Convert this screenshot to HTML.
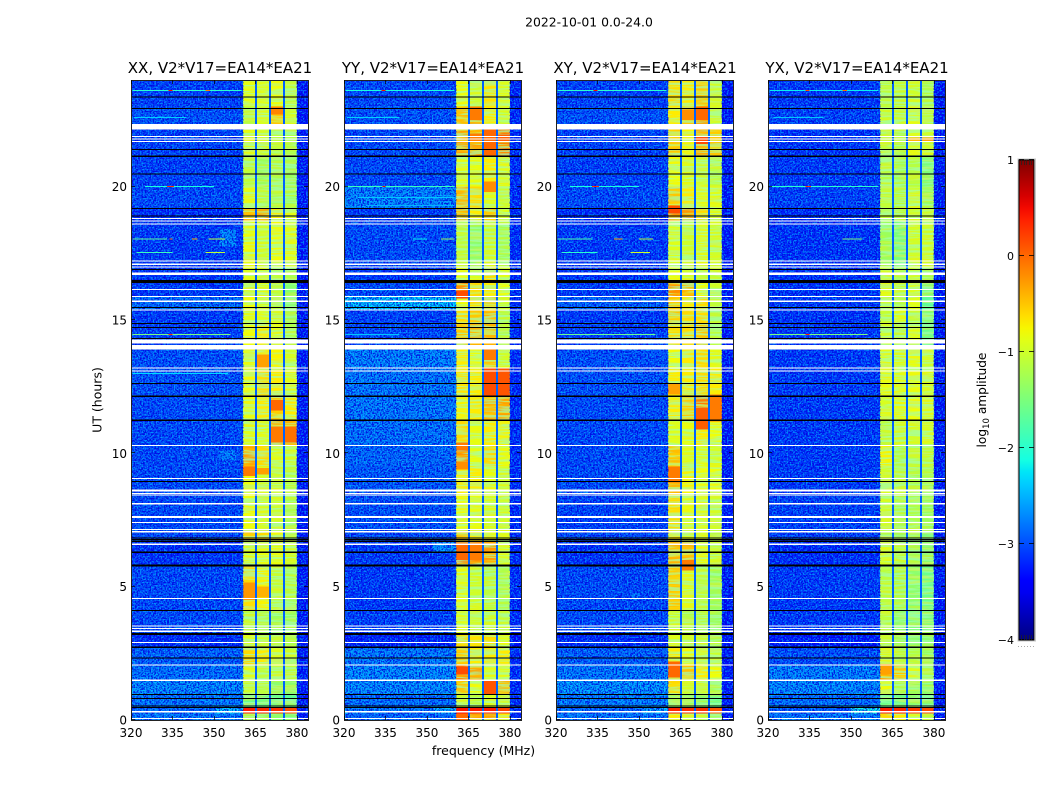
<!DOCTYPE html>
<html>
<head>
<meta charset="utf-8">
<title>2022-10-01 dynamic spectra</title>
<style>
html,body{margin:0;padding:0;background:#fff;}
svg{display:block;}
text{font-family:"DejaVu Sans","Liberation Sans",sans-serif;fill:#000;}
</style>
</head>
<body>
<svg id="figure" xmlns="http://www.w3.org/2000/svg" width="1050" height="800" viewBox="0 0 1050 800">
  <defs>
    <filter id="noiseDark" x="0" y="0" width="1" height="1">
      <feTurbulence type="fractalNoise" baseFrequency="0.62" numOctaves="1" seed="4"/>
      <feColorMatrix type="matrix" values="0 0 0 0 0  0 0 0 0 0  0 0 0 0 0.72  9 0 0 0 -4.1"/>
    </filter>
    <filter id="noiseLight" x="0" y="0" width="1" height="1">
      <feTurbulence type="fractalNoise" baseFrequency="0.62" numOctaves="1" seed="11"/>
      <feColorMatrix type="matrix" values="0 0 0 0 0  0 0 0 0 0.68  0 0 0 0 1  9 0 0 0 -4.6"/>
    </filter>
    <filter id="bandStreaks" x="0" y="0" width="1" height="1">
      <feTurbulence type="fractalNoise" baseFrequency="0.03 0.45" numOctaves="2" seed="7"/>
      <feColorMatrix type="matrix" values="0 0 0 0 0.35  0 0 0 0 1  0 0 0 0 0.45  7 0 0 0 -3.1"/>
    </filter>
    <filter id="bandGlow" x="0" y="0" width="1" height="1">
      <feTurbulence type="fractalNoise" baseFrequency="0.03 0.4" numOctaves="2" seed="19"/>
      <feColorMatrix type="matrix" values="0 0 0 0 1  0 0 0 0 0.85  0 0 0 0 0  7 0 0 0 -3.3"/>
    </filter>
    <linearGradient id="jetGradient" x1="0" y1="1" x2="0" y2="0"></linearGradient>
  </defs>
  <text x="589" y="26.5" font-size="12.4" text-anchor="middle">2022-10-01 0.0-24.0</text>
  <text x="483.5" y="755" font-size="12.5" text-anchor="middle">frequency (MHz)</text>
  <text x="101.5" y="400" font-size="12.5" text-anchor="middle" transform="rotate(-90 101.5 400)">UT (hours)</text>
  <g id="panels"></g>
  <g id="colorbar"></g>
  <text x="986" y="400" font-size="12.2" text-anchor="middle" transform="rotate(-90 986 400)">log<tspan font-size="8.5" dy="3">10</tspan><tspan dy="-3"> amplitude</tspan></text>
</svg>
<script>
// ---------- chart data ----------
const panelTitles = ["XX, V2*V17=EA14*EA21", "YY, V2*V17=EA14*EA21", "XY, V2*V17=EA14*EA21", "YX, V2*V17=EA14*EA21"];
const freqTicks = [320, 335, 350, 365, 380];
const hourTicks = [0, 5, 10, 15, 20];
const colorbarTicks = [-4, -3, -2, -1, 0, 1];

// time-band boundaries (UT hours), shared by all panels
const hourEdges = [0,0.25,0.47,0.95,1.5,2.07,2.73,3.23,4.1,5.8,6.7,7.1,8.5,9.5,10.3,11.24,12.14,13.2,14,14.9,15.4,15.9,16.4,17,18.7,19.2,20,21.14,22.2,23,24];

// log10 amplitude per time band: quiet part of the band (320-360 MHz)
const quietXX = [-2.7,-2.8,-2.7,-2.6,-2.75,-2.85,-3.2,-3,-3,-3.15,-3,-3,-3,-3,-3,-3,-2.95,-2.95,-3.05,-3.1,-2.8,-3.1,-3.1,-3.1,-3.2,-3,-3.05,-3.05,-2.95,-3.05];
const quietYY = [-2.8,-2.7,-2.75,-2.6,-2.6,-2.7,-3.25,-3.05,-3.1,-3.1,-3,-2.95,-2.9,-2.8,-2.75,-2.7,-2.7,-2.65,-3,-3.05,-2.3,-3,-3.1,-3,-3.1,-2.65,-3,-3,-2.95,-3];
const quietXY = [-2.7,-2.8,-2.65,-2.55,-2.7,-2.85,-3.2,-3,-3,-3.15,-3,-3.05,-3,-3,-3,-3,-2.95,-2.95,-3.05,-3.1,-2.85,-3.1,-3.1,-3.1,-3.2,-3,-3.05,-3.05,-2.95,-3.05];
const quietYX = [-2.7,-2.9,-2.75,-2.6,-2.65,-2.95,-3.3,-3.1,-3.1,-3.2,-3.05,-3.05,-3.1,-3.1,-3.1,-3.1,-3.1,-3.1,-3.1,-3.15,-3.1,-3.15,-3.15,-3.15,-3.2,-3.05,-3.1,-3.15,-3.05,-3.1];

// log10 amplitude per time band: the four bright sub-bands
const xxBand1 = [-1.3,0.4,-1.6,-1,-0.9,-0.6,-0.9,-1.1,-0.6,-0.9,-0.5,-0.8,-0.8,-0.3,-0.9,-0.85,-0.8,-0.85,-0.8,-0.9,-0.8,-0.9,-0.9,-0.85,-0.4,-0.9,-1.1,-0.9,-1.15,-0.85];
const xxBand2 = [-1.3,0.35,-1.6,-1.1,-1.1,-0.7,-1,-1.2,-0.75,-0.85,-0.6,-0.95,-0.95,-0.6,-0.9,-0.7,-0.6,-0.7,-0.7,-0.9,-0.95,-0.9,-0.95,-1,-0.3,-1.15,-1.3,-1,-0.95,-0.9];
const xxBand3 = [-1.4,0.3,-1.6,-1.4,-1.05,-0.9,-1.1,-1.3,-1.05,-0.85,-0.8,-1,-1,-0.9,-0.4,-0.5,-0.7,-0.75,-0.85,-1,-1.1,-1.1,-1.1,-0.8,-0.7,-1.2,-1.25,-1.1,-0.5,-0.8];
const xxBand4 = [-1.5,0.15,-1.7,-1.4,-1.1,-1.05,-1.2,-1.35,-1.2,-1,-1.1,-1.2,-1.15,-1,-0.4,-0.7,-0.9,-1,-1.2,-1.3,-1.4,-1.45,-1.25,-0.85,-0.9,-1.3,-1.3,-1.2,-1,-1.1];

const yyBand1 = [0,0.45,-1,-0.5,-0.15,-0.5,-0.6,-0.9,-0.85,-0.15,-0.5,-0.8,-0.7,-0.2,-0.6,-0.75,-0.65,-0.7,-0.5,-0.6,-0.8,-0.15,-0.8,-1.1,-0.4,-0.4,-0.85,-0.3,-0.45,-0.8];
const yyBand2 = [-0.3,0.4,-1.1,-0.8,-0.3,-0.7,-0.65,-1,-1,-0.2,-0.7,-0.85,-0.7,-0.85,-0.85,-0.7,-0.7,-0.8,-0.4,-0.5,-0.6,-0.6,-0.9,-1.4,-0.7,-0.6,-0.85,-0.3,-0.3,-1];
const yyBand3 = [-0.3,0.4,-0.9,0.1,-0.9,-0.7,-0.6,-1,-1.1,-0.25,-0.8,-0.95,-0.85,-0.6,-0.7,-0.4,0.15,-0.5,-0.4,-0.4,-0.5,-0.7,-0.6,-1,-0.5,-0.9,-0.7,0,-0.7,-0.65];
const yyBand4 = [-0.7,0.2,-1,-0.4,-0.9,-0.7,-0.85,-1.05,-1.2,-0.9,-0.9,-1,-0.95,-0.85,-0.75,-0.3,0.1,-1,-1.15,-1.15,-1,-0.8,-0.9,-1.25,-0.9,-1.05,-0.9,-0.1,-1,-0.9];

const xyBand1 = [-0.7,0.35,-1.3,-0.6,-0.4,-0.7,-0.9,-1,-0.5,-0.4,-0.7,-0.6,-0.4,-0.45,-0.9,-0.7,-0.7,-0.8,-0.6,-0.5,-0.5,-0.2,-0.8,-0.9,-0.2,-0.5,-0.8,-0.5,-0.7,-0.6];
const xyBand2 = [-0.9,0.3,-1.4,-1,-0.45,-0.8,-1,-1.15,-0.9,-0.4,-0.9,-0.85,-0.75,-0.9,-0.85,-0.5,-0.7,-0.7,-0.6,-0.6,-0.7,-0.4,-0.95,-1,-0.25,-0.7,-0.9,-0.75,-0.5,-0.7];
const xyBand3 = [-1,0.3,-1.4,-1,-0.7,-0.9,-1,-1.15,-1.1,-0.8,-0.9,-0.9,-0.8,-0.9,-0.7,-0.1,-0.6,-0.6,-0.5,-0.6,-0.6,-0.8,-1.1,-0.9,-0.6,-0.9,-1,-0.35,-0.3,-0.5];
const xyBand4 = [-1.2,0.1,-1.6,-1.2,-0.8,-1,-1.2,-1.3,-1.3,-1,-1.2,-1,-0.8,-0.95,-0.8,-0.3,-0.7,-0.9,-1.1,-1.2,-1.1,-1,-1.1,-1,-0.9,-0.9,-1.1,-0.5,-1,-1];

const yxBand1 = [-0.6,0.4,-1.6,-0.8,-0.35,-0.95,-1.05,-1.1,-1.1,-0.95,-1.2,-1,-1,-0.75,-1.1,-0.95,-0.85,-0.9,-1,-1.05,-1,-0.9,-1,-1.3,-1.1,-1.1,-1.15,-1.1,-1.05,-1.1];
const yxBand2 = [-0.7,0.35,-1.6,-1.2,-0.5,-1.1,-1.3,-1.4,-1.2,-1.1,-1.3,-1.2,-1.1,-1.2,-1,-0.85,-0.9,-0.95,-1.1,-0.9,-1.15,-1,-1.2,-1.5,-1.1,-1.15,-1.25,-1.15,-1.05,-1.1];
const yxBand3 = [-0.9,0.25,-1.4,-1.3,-0.9,-1.15,-1.4,-1.5,-1.4,-1.3,-1.2,-1.2,-1.2,-1.1,-1,-0.8,-0.85,-0.85,-0.9,-1.1,-0.9,-0.9,-1,-1,-1,-1,-1.15,-0.9,-0.9,-1];
const yxBand4 = [-1.1,0.15,-1.6,-1.4,-1.2,-1.3,-1.4,-1.5,-1.6,-1.4,-1.5,-1.3,-1.2,-1.1,-0.95,-0.9,-0.95,-1,-1.6,-1.5,-1.7,-1.5,-1.2,-1,-1,-1.3,-1.5,-1,-1.1,-1.2];

const quietLevels = [quietXX, quietYY, quietXY, quietYX];
const bandLevels = [
  [xxBand1, xxBand2, xxBand3, xxBand4],
  [yyBand1, yyBand2, yyBand3, yyBand4],
  [xyBand1, xyBand2, xyBand3, xyBand4],
  [yxBand1, yxBand2, yxBand3, yxBand4]
];

// sub-band limits in MHz; gaps between them are the notch channels
const bandStartMHz = [360.5, 365.6, 370.6, 375.6];
const bandEndMHz = [364.9, 369.9, 374.9, 380];
const notchLevel = -2.9;
const upperEdgeLevel = [-3.3, -3.2, -3.3, -3.3];

// local bright patches: [panel, sub-band, start hour, end hour, log10 amplitude]
const brightPatches = [
  [0,0,9.15,9.5,-0.1],[0,1,9.2,9.45,-0.3],[0,0,4.5,5.15,-0.25],[0,1,4.6,5,-0.4],[0,2,10.4,11,-0.1],[0,3,10.4,11,-0.05],
  [0,2,11.6,12,0],[0,2,22.7,23,-0.15],[0,1,13.2,13.7,-0.3],
  [1,0,1.7,2,0.15],[1,0,10.1,10.4,-0.1],[1,0,9.4,9.7,-0.2],[1,2,21.7,21.95,0.25],[1,3,21.7,21.95,0.05],[1,1,21.7,22,-0.1],
  [1,0,15.8,16.1,0.15],[1,2,13.5,13.9,-0.1],[1,0,6,6.65,0],[1,1,6,6.65,-0.1],[1,2,19.8,20.2,-0.2],[1,1,22.5,23,-0.1],
  [2,2,10.9,11.7,0.05],[2,3,11.2,12.2,-0.1],[2,0,8.9,9.5,-0.1],[2,1,22.5,22.9,-0.2],[2,2,22.5,23,0],[2,0,19,19.3,0.15],
  [2,0,1.6,2.2,0],[2,0,12.2,12.6,-0.3],[2,2,21.6,21.9,0.15],[2,1,5.6,6,-0.1],
  [3,0,1.7,2.1,-0.3],[3,3,21.7,21.85,-0.3],[3,2,21.7,21.85,-0.4]
];

// faint broadband glow regions: [panel, start hour, end hour, start MHz, end MHz, log10 amplitude]
const quietGlows = [
  [0,0.25,0.45,351,360.5,-2.3],[0,17.75,18.4,352,358,-2.65],[0,9.75,10.1,352,358,-2.7],
  [1,0.25,0.45,352,360.5,-2.4],[1,6.3,6.7,352,360.5,-2.6],
  [2,0.25,0.45,352,360.5,-2.4],[2,4.5,4.7,347,350,-2.7],
  [3,0.25,0.45,350,360.5,-2.1]
];

// narrow interference lines: [panel, hour, start MHz, end MHz, log10 amplitude]
const rfiLines = [
  [0,23.6,320.5,360,-2.0],[0,23.6,333.5,335,0.5],[0,23.6,347,348.5,-0.1],[0,22.6,321,340,-2.35],[0,20,325,350,-2.1],[0,20,333,335.5,0.3],
  [0,18.03,320.5,333,-1.7],[0,18.03,334,335,0],[0,18.03,342,344,-0.4],[0,18.03,348,354,-1.1],[0,17.53,322,335,-1.9],[0,17.53,347,354,-1.1],
  [0,14.45,320.5,356,-1.5],[0,14.45,333.5,335,0.3],[0,13,320.5,355,-2.3],
  [1,23.6,320.5,360,-2.1],[1,23.6,333.5,335,0.5],[1,20,320.5,360,-1.9],[1,20,334,335,0.5],[1,19.6,325,360,-2.4],[1,19.3,328,360,-2.5],
  [1,18.03,345,350,-2.2],[1,18.03,355,360,-1.3],[1,14.45,320.5,340,-2.4],[1,22.6,321,340,-2.35],
  [2,23.6,320.5,360,-2.0],[2,23.6,333.5,335,0.5],[2,20,325,350,-2.1],[2,20,333,335.5,0.3],[2,18.03,320.5,333,-1.8],[2,18.03,341,344,-0.4],
  [2,18.03,350,355,-1.1],[2,17.53,322,335,-2],[2,17.53,347,354,-1],[2,14.45,320.5,356,-1.6],
  [3,23.6,320.5,360,-2.2],[3,23.6,333.5,335,0.2],[3,23.6,347,348.5,0],[3,22.6,322,340,-2.4],[3,20,320.5,360,-2.0],[3,20,333.5,335.5,0.3],
  [3,18.03,347,354,-1.5],[3,14.45,320.5,356,-1.5],[3,14.45,333.5,335,0.4]
];

// flagged time ranges: [centre hour, span in hours]
const blankedRows = [[23.37,.04],[22.93,.04],[21.4,.04],[21.14,.04],[20.47,.04],[19.18,.04],[18.9,.04],[16.89,.04],[16.44,.12],[15.47,.04],[14.87,.04],[14.72,.04],[14.3,.04],[12.62,.04],[12.14,.07],[11.24,.07],[8.94,.04],[6.82,.04],[6.76,.04],[6.69,.04],[6.29,.07],[5.8,.07],[4.1,.04],[3.23,.07],[2.73,.07],[2.33,.04],[0.95,.04],[0.8,.04],[0.53,.04],[0.47,.04]];
const missingRows = [[22.25,.2],[21.88,.04],[21.79,.04],[21.69,.04],[18.81,.04],[18.72,.04],[18.6,.04],[17.22,.04],[17.09,.04],[16.99,.04],[16.74,.1],[16.14,.04],[15.88,.04],[15.705,.07],[15.37,.04],[14.2,.15],[13.98,.16],[13.2,.04],[13.08,.04],[10.3,.04],[9.05,.04],[8.6,.08],[8.49,.04],[8.43,.04],[8.11,.04],[7.61,.07],[7.4,.04],[7.14,.04],[7.06,.04],[6.59,.04],[4.55,.04],[3.52,.04],[3.43,.04],[3.33,.07],[2.9,.04],[2.07,.04],[1.49,.07],[0.31,.04],[0.06,.04]];

// ---------- layout + scales ----------
const SVGNS = "http://www.w3.org/2000/svg";
const panelLeft = [131, 344, 556, 768];
const panelWidth = 177;
const plotTop = 80, plotBottom = 720;
const freqMin = 320, freqMax = 384, hourMin = 0, hourMax = 24;
const cbarLeft = 1019, cbarRight = 1034, cbarTop = 160, cbarBottom = 640, cbarMin = -4, cbarMax = 1;

function xScale(p, f) { return panelLeft[p] + (f - freqMin) / (freqMax - freqMin) * panelWidth; }
function yScale(h) { return plotBottom - (h - hourMin) / (hourMax - hourMin) * (plotBottom - plotTop); }
function cbarScale(v) { return cbarBottom - (v - cbarMin) / (cbarMax - cbarMin) * (cbarBottom - cbarTop); }

function ramp(t, pts) {
  if (t <= pts[0][0]) return pts[0][1];
  for (let i = 1; i < pts.length; i++) {
    if (t <= pts[i][0]) {
      const a = pts[i - 1], b = pts[i];
      return a[1] + (b[1] - a[1]) * (t - a[0]) / (b[0] - a[0]);
    }
  }
  return pts[pts.length - 1][1];
}
function jet(v) {
  const t = Math.max(0, Math.min(1, (v - cbarMin) / (cbarMax - cbarMin)));
  const r = ramp(t, [[0.35, 0], [0.66, 1], [0.89, 1], [1, 0.5]]);
  const g = ramp(t, [[0.125, 0], [0.375, 1], [0.64, 1], [0.91, 0]]);
  const b = ramp(t, [[0, 0.5], [0.11, 1], [0.34, 1], [0.65, 0]]);
  return "rgb(" + Math.round(r * 255) + "," + Math.round(g * 255) + "," + Math.round(b * 255) + ")";
}
function make(tag, attrs, parent) {
  const el = document.createElementNS(SVGNS, tag);
  for (const k in attrs) el.setAttribute(k, attrs[k]);
  parent.appendChild(el);
  return el;
}
function cell(parent, p, f0, f1, h0, h1, fill, name) {
  const x0 = xScale(p, f0), x1 = xScale(p, f1), y0 = yScale(h1), y1 = yScale(h0);
  const r = make("rect", { x: x0, y: y0, width: x1 - x0, height: Math.max(1, y1 - y0), fill: fill }, parent);
  
  
  return r;
}

const panelsRoot = document.getElementById("panels");
panelTitles.forEach(function (title, p) {
  const g = make("g", {}, panelsRoot);
  
  

  const image = make("g", { "shape-rendering": "crispEdges" }, g);
  
  

  // heatmap cells
  for (let r = 0; r < hourEdges.length - 1; r++) {
    const h0 = hourEdges[r], h1 = hourEdges[r + 1];
    cell(image, p, freqMin + 0.3, bandStartMHz[0], h0, h1, jet(quietLevels[p][r]), 'heatmap-quiet-cell');
    for (let b = 0; b < 4; b++) {
      cell(image, p, bandStartMHz[b], bandEndMHz[b], h0, h1, jet(bandLevels[p][b][r]), 'heatmap-band-cell');
    }
    cell(image, p, bandEndMHz[3], freqMax, h0, h1, jet(Math.min(upperEdgeLevel[p], quietLevels[p][r] - 0.1)), 'heatmap-upper-edge-cell');
  }
  quietGlows.filter(function (d) { return d[0] === p; }).forEach(function (d) {
    cell(image, p, d[3], d[4], d[1], d[2], jet(d[5]), 'heatmap-quiet-glow');
  });

  // row-streak texture on the bright sub-bands
  for (let b = 0; b < 4; b++) {
    const bx0 = xScale(p, bandStartMHz[b]), bx1 = xScale(p, bandEndMHz[b]);
    const s = make("rect", { x: bx0, y: plotTop, width: bx1 - bx0, height: plotBottom - plotTop, filter: "url(#bandStreaks)", opacity: 0.7 }, image);
    
    
    const w = make("rect", { x: bx0, y: plotTop, width: bx1 - bx0, height: plotBottom - plotTop, filter: "url(#bandGlow)", opacity: 0.32 }, image);
    
    
  }

  // patches and strongest rows sit above the band texture
  brightPatches.filter(function (d) { return d[0] === p; }).forEach(function (d) {
    cell(image, p, bandStartMHz[d[1]], bandEndMHz[d[1]], d[2], d[3], jet(d[4]), 'heatmap-bright-patch');
  });
  for (let r = 0; r < hourEdges.length - 1; r++) {
    for (let b = 0; b < 4; b++) {
      if (bandLevels[p][b][r] >= 0) {
        cell(image, p, bandStartMHz[b], bandEndMHz[b], hourEdges[r], hourEdges[r + 1], jet(bandLevels[p][b][r]), 'heatmap-strong-cell');
      }
    }
  }
  for (let b = 0; b < 3; b++) {
    cell(image, p, bandEndMHz[b], bandStartMHz[b + 1], hourMin, hourMax, jet(notchLevel), 'heatmap-notch-channel');
  }

  // speckle texture on the quiet regions
  [[freqMin + 0.3, bandStartMHz[0]], [bandEndMHz[3], freqMax]].forEach(function (range) {
    const x0 = xScale(p, range[0]), x1 = xScale(p, range[1]);
    const d = make("rect", { x: x0, y: plotTop, width: x1 - x0, height: plotBottom - plotTop, filter: "url(#noiseDark)", opacity: 0.8 }, image);
    
    
    const l = make("rect", { x: x0, y: plotTop, width: x1 - x0, height: plotBottom - plotTop, filter: "url(#noiseLight)", opacity: 0.5 }, image);
    
    
  });

  // interference lines
  rfiLines.filter(function (d) { return d[0] === p; }).forEach(function (d) {
    cell(image, p, d[2], d[3], d[1] - 0.018, d[1] + 0.018, jet(d[4]), 'rfi-line');
  });

  // flagged rows
  missingRows.forEach(function (d) {
    cell(image, p, freqMin + 0.3, freqMax, d[0] - d[1] / 2, d[0] + d[1] / 2, "#ffffff", 'missing-data-row');
  });
  blankedRows.forEach(function (d) {
    cell(image, p, freqMin, freqMax, d[0] - d[1] / 2, d[0] + d[1] / 2, "#000000", 'blanked-data-row');
  });

  // axes frame
  const frame = make("rect", { x: panelLeft[p] + 0.5, y: plotTop + 0.5, width: panelWidth, height: plotBottom - plotTop, fill: "none", stroke: "#222", "stroke-width": 1 }, g);
  
  

  // x ticks + labels
  freqTicks.forEach(function (f) {
    const x = Math.round(xScale(p, f)) + 0.5;
    const tb = make("line", { x1: x, x2: x, y1: plotBottom, y2: plotBottom - 4, stroke: "#000", "stroke-width": 0.7 }, g);
    
    
    const tt = make("line", { x1: x, x2: x, y1: plotTop, y2: plotTop + 4, stroke: "#000", "stroke-width": 0.7 }, g);
    
    
    const lab = make("text", { x: xScale(p, f), y: 737, "font-size": 12, "text-anchor": "middle" }, g);
    lab.textContent = f;
    
    
  });

  // y ticks + labels
  hourTicks.forEach(function (h) {
    const y = Math.round(yScale(h)) - 0.5;
    const tl = make("line", { x1: panelLeft[p], x2: panelLeft[p] + 4, y1: y, y2: y, stroke: "#000", "stroke-width": 0.7 }, g);
    
    
    const tr = make("line", { x1: panelLeft[p] + panelWidth, x2: panelLeft[p] + panelWidth - 4, y1: y, y2: y, stroke: "#000", "stroke-width": 0.7 }, g);
    
    
    const lab = make("text", { x: panelLeft[p] - 4, y: yScale(h) + 4.5, "font-size": 12, "text-anchor": "end" }, g);
    lab.textContent = h;
    
    
  });

  const t = make("text", { x: panelLeft[p] + panelWidth / 2 + 0.5, y: 73, "font-size": 15, "text-anchor": "middle" }, g);
  t.textContent = title;
  
  
});

// ---------- colorbar ----------
const cbarRoot = document.getElementById("colorbar");
const grad = document.getElementById("jetGradient");
for (let i = 0; i <= 40; i++) {
  const frac = i / 40;
  make("stop", { offset: frac, "stop-color": jet(cbarMin + frac * (cbarMax - cbarMin)) }, grad);
}
const cbarShadow = make("rect", { x: cbarLeft - 1, y: cbarTop - 1, width: cbarRight - cbarLeft + 2.5, height: cbarBottom - cbarTop + 2, fill: "none", stroke: "#c8c8c8", "stroke-width": 1 }, cbarRoot);


const cbarFill = make("rect", { x: cbarLeft, y: cbarTop, width: cbarRight - cbarLeft, height: cbarBottom - cbarTop, fill: "url(#jetGradient)", stroke: "#000", "stroke-width": 1 }, cbarRoot);



colorbarTicks.forEach(function (v) {
  const y = Math.round(cbarScale(v)) - 0.5;
  const a = make("line", { x1: cbarLeft, x2: cbarLeft + 5, y1: y, y2: y, stroke: "#000", "stroke-width": 0.8 }, cbarRoot);
  
  
  const b = make("line", { x1: cbarRight, x2: cbarRight - 5, y1: y, y2: y, stroke: "#000", "stroke-width": 0.8 }, cbarRoot);
  
  
  const lab = make("text", { x: cbarLeft - 5, y: cbarScale(v) + 4, "font-size": 11, "text-anchor": "end" }, cbarRoot);
  lab.textContent = String(v).replace("-", "\u2212");
  
  
});
const cbarMinorX = [2, 5, 7, 10, 12];
cbarMinorX.forEach(function (dx) {
  const top = make("line", { x1: cbarLeft + dx + 0.5, x2: cbarLeft + dx + 0.5, y1: cbarTop, y2: cbarTop + 5, stroke: "#222", "stroke-width": 0.7 }, cbarRoot);
  
  
  const bot = make("line", { x1: cbarLeft + dx + 0.5, x2: cbarLeft + dx + 0.5, y1: cbarBottom, y2: cbarBottom - 5, stroke: "#222", "stroke-width": 0.7 }, cbarRoot);
  
  
});
const cbarDotsX = [-1, 2, 5, 8, 11, 14];
cbarDotsX.forEach(function (dx) {
  const dot = make("rect", { x: cbarLeft + dx, y: 646, width: 1, height: 1, fill: "#aaa" }, cbarRoot);
  
  
});
</script>
</body>
</html>
